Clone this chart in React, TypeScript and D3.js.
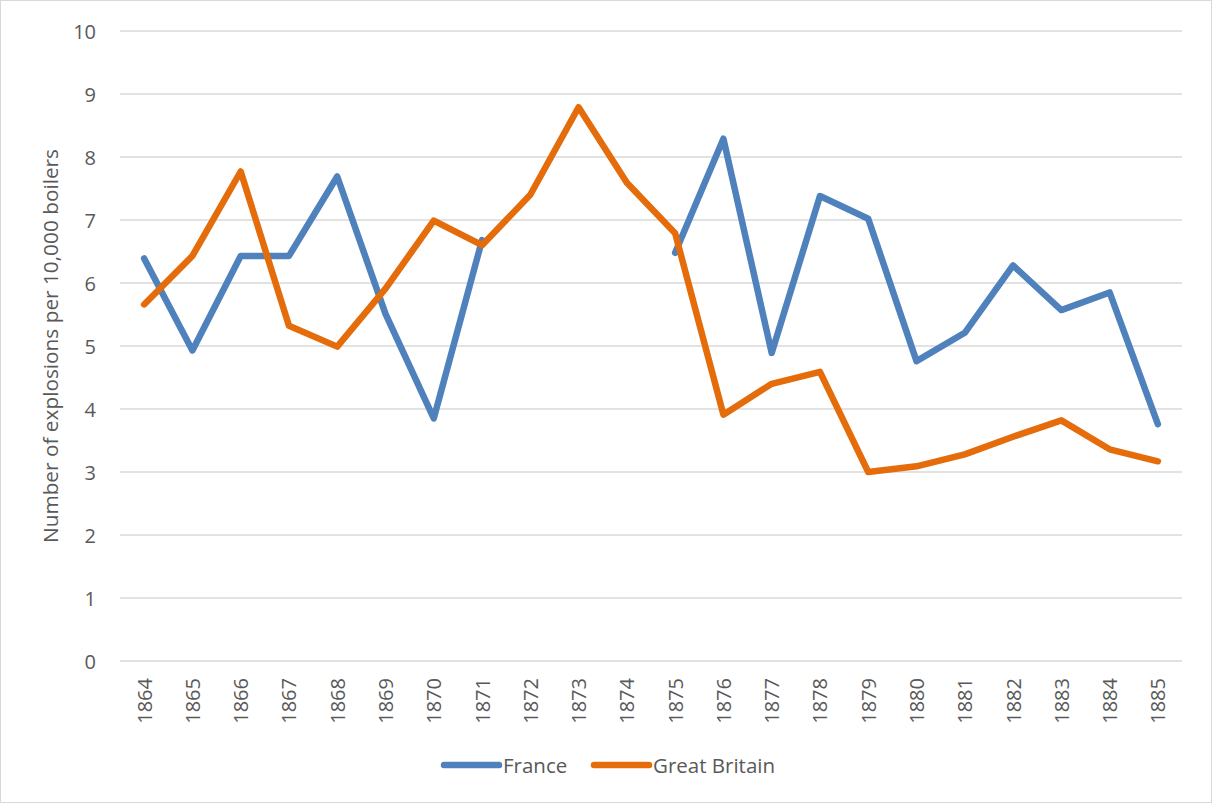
import React from "react";
import * as d3 from "d3";

const years: string[] = [
  "1864", "1865", "1866", "1867", "1868", "1869", "1870", "1871", "1872", "1873", "1874",
  "1875", "1876", "1877", "1878", "1879", "1880", "1881", "1882", "1883", "1884", "1885",
];

const france: (number | null)[] = [
  6.39, 4.93, 6.43, 6.43, 7.69, 5.51, 3.85, 6.68, null, null, null,
  6.48, 8.29, 4.89, 7.38, 7.02, 4.76, 5.21, 6.28, 5.57, 5.85, 3.76,
];

const greatBritain: number[] = [
  5.66, 6.43, 7.77, 5.32, 4.99, 5.91, 6.99, 6.6, 7.4, 8.79, 7.59,
  6.79, 3.91, 4.4, 4.59, 3.0, 3.09, 3.28, 3.56, 3.82, 3.36, 3.17,
];

const yTicks: number[] = [0, 1, 2, 3, 4, 5, 6, 7, 8, 9, 10];

const seriesNames = ["France", "Great Britain"];
const seriesColors = ["#4F81BD", "#E46C0A"];

const W = 1212;
const H = 803;
const FONT = "'Open Sans', sans-serif";
const TEXT = "#595959";

export default function App() {
  const x = d3.scaleBand<string>().domain(years).range([120, 1182]);
  const y = d3.scaleLinear().domain([0, 10]).range([661, 31]);
  const cx = (d: string) => (x(d) as number) + x.bandwidth() / 2;

  const line = d3
    .line<number | null>()
    .defined((d) => d !== null)
    .x((_, i) => cx(years[i]))
    .y((d) => y(d as number));

  const series = [france, greatBritain as (number | null)[]];

  return (
    <svg
      width={W}
      height={H}
      style={{ position: "absolute", left: 0, top: 0, background: "#fff" }}
      fontFamily={FONT}
    >
      <rect x={0.5} y={0.5} width={W - 1} height={H - 1} fill="#fff" stroke="#d9d9d9" />
      {yTicks.map((t) => (
        <g key={t}>
          <line x1={120} x2={1182} y1={y(t)} y2={y(t)} stroke="#d9d9d9" strokeWidth={1.5} />
          <text
            x={96}
            y={y(t)}
            textAnchor="end"
            dominantBaseline="central"
            fontSize={20}
            fill={TEXT}
          >
            {t}
          </text>
        </g>
      ))}
      {years.map((yr) => (
        <text
          key={yr}
          transform={`translate(${cx(yr)},${678}) rotate(-90)`}
          textAnchor="end"
          dominantBaseline="central"
          fontSize={20}
          fill={TEXT}
        >
          {yr}
        </text>
      ))}
      <text
        transform={`translate(50,${(y(0) + y(10)) / 2}) rotate(-90)`}
        textAnchor="middle"
        dominantBaseline="central"
        fontSize={20.8}
        fill={TEXT}
      >
        Number of explosions per 10,000 boilers
      </text>
      {series.map((s, i) => (
        <path
          key={i}
          d={line(s) || ""}
          fill="none"
          stroke={seriesColors[i]}
          strokeWidth={6.5}
          strokeLinejoin="round"
          strokeLinecap="round"
        />
      ))}
      {seriesNames.map((name, i) => {
        const lx = [444, 594][i];
        return (
          <g key={name}>
            <line
              x1={lx}
              x2={lx + 55}
              y1={765}
              y2={765}
              stroke={seriesColors[i]}
              strokeWidth={6.5}
              strokeLinecap="round"
            />
            <text
              x={lx + 59}
              y={765}
              dominantBaseline="central"
              fontSize={20.5}
              fill={TEXT}
            >
              {name}
            </text>
          </g>
        );
      })}
    </svg>
  );
}
